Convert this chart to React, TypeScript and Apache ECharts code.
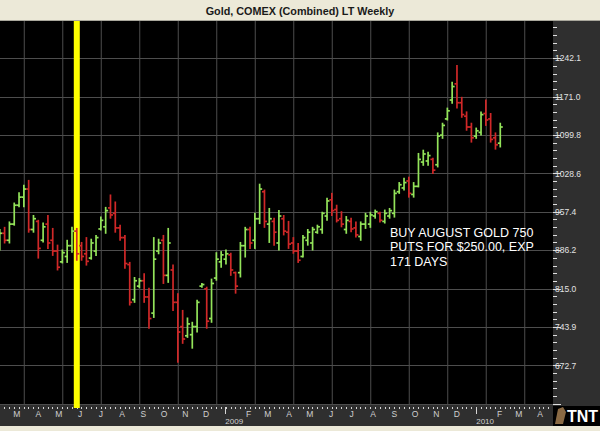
import React, { useEffect, useRef } from 'react';
import * as echarts from 'echarts';

// ---------- data ----------
const DAY0 = Date.UTC(2008, 0, 1);
const toDay = (y: number, m: number, d: number) => (Date.UTC(y, m, d) - DAY0) / 86400000;
const dayToDate = (v: number) => new Date(DAY0 + Math.round(v) * 86400000);

const chartTitle = 'Gold, COMEX (Combined) LT Weekly';
const noteLines = ['BUY AUGUST GOLD 750', 'PUTS FOR $250.00, EXP', '171 DAYS'];

// weekly bars, week ending Friday 2008-02-08 ... 2010-02-05
const firstWeekEnd = toDay(2008, 1, 8);
const openP = [
  889, 918, 905, 935, 970, 985, 1000, 925, 940, 905, 935, 905, 885, 865, 875, 895, 922, 895, 880, 872,
  885, 926, 930, 965, 955, 928, 910, 860, 795, 820, 830, 800, 770, 885, 905, 840, 850, 790, 745, 728,
  730, 745, 820, 815, 760, 835, 865, 870, 878, 845, 845, 895, 925, 905, 945, 995, 935, 940, 900, 945,
  920, 900, 885, 875, 905, 900, 920, 925, 950, 980, 962, 945, 925, 940, 928, 912, 935, 935, 950, 955,
  940, 950, 955, 995, 1002, 1015, 990, 1005, 1050, 1052, 1055, 1045, 1100, 1130, 1165, 1195, 1160, 1135, 1115, 1098,
  1105, 1140, 1130, 1095, 1085,
];
const highP = [
  925, 929, 939, 974, 993, 1007, 1016, 951, 942, 937, 951, 927, 896, 887, 905, 929, 927, 901, 910, 907,
  914, 948, 966, 989, 976, 933, 914, 864, 836, 834, 843, 816, 910, 907, 914, 927, 859, 806, 775, 761,
  753, 794, 825, 818, 833, 882, 884, 887, 881, 846, 901, 929, 929, 955, 1009, 998, 964, 946, 960, 951,
  940, 910, 899, 914, 925, 929, 933, 957, 983, 992, 970, 958, 949, 946, 939, 939, 955, 957, 961, 957,
  961, 964, 998, 1012, 1020, 1022, 1012, 1066, 1072, 1068, 1057, 1104, 1122, 1150, 1198, 1229, 1170, 1143, 1122, 1113,
  1143, 1165, 1140, 1104, 1122,
];
const lowP = [
  887, 900, 900, 933, 967, 967, 920, 920, 872, 902, 890, 877, 850, 863, 864, 883, 868, 868, 859, 870,
  877, 924, 918, 946, 920, 905, 853, 785, 790, 817, 790, 742, 762, 880, 825, 827, 775, 679, 714, 725,
  705, 735, 818, 742, 753, 831, 855, 861, 840, 807, 837, 874, 890, 890, 936, 929, 901, 896, 887, 915,
  890, 881, 864, 874, 896, 887, 918, 918, 942, 951, 939, 930, 918, 921, 911, 905, 927, 929, 946, 939,
  937, 946, 948, 992, 998, 985, 985, 1004, 1044, 1044, 1029, 1041, 1094, 1128, 1159, 1150, 1133, 1109, 1087, 1094,
  1100, 1118, 1087, 1074, 1078,
];
const closeP = [
  918, 905, 935, 970, 985, 1000, 925, 945, 890, 930, 900, 885, 855, 882, 895, 922, 880, 875, 866, 900,
  910, 942, 960, 952, 928, 910, 862, 790, 830, 830, 800, 760, 870, 900, 840, 900, 790, 735, 722, 750,
  745, 790, 823, 755, 825, 870, 878, 880, 850, 820, 895, 925, 900, 945, 1000, 940, 945, 920, 950, 922,
  898, 885, 868, 910, 920, 925, 930, 955, 978, 960, 942, 935, 942, 926, 915, 935, 950, 952, 958, 942,
  955, 960, 992, 1008, 1012, 992, 1005, 1055, 1065, 1062, 1035, 1098, 1118, 1145, 1190, 1160, 1138, 1115, 1095, 1108,
  1138, 1128, 1092, 1082, 1115,
];
const weekEnds = openP.map((_, i) => firstWeekEnd + 7 * i);

// annotation marker (yellow line) on week ending 2008-05-30
const markerDays = [toDay(2008, 4, 30)];

// axis labels
const yTickLabels = ['672.7', '743.9', '815.0', '886.2', '957.4', '1028.6', '1099.8', '1171.0', '1242.1'];
const monthLetters = ['J', 'F', 'M', 'A', 'M', 'J', 'J', 'A', 'S', 'O', 'N', 'D'];
const yearStarts = [toDay(2009, 0, 1), toDay(2010, 0, 1)];

// ---------- scales / layout ----------
const X_MIN = 38.3;
const X_MAX = 842.7;
const Y_MIN = 601.54;
const Y_STEP = 71.18;
const Y_MAX = Y_MIN + 10 * Y_STEP;

const monthStarts: number[] = [];
for (let y = 2008; y <= 2010; y++) {
  for (let m = 0; m < 12; m++) {
    const d = toDay(y, m, 1);
    if (m !== 0 && d >= X_MIN && d <= X_MAX) monthStarts.push(d);
  }
}
const weekTicks: number[] = [];
for (let d = firstWeekEnd; d <= X_MAX; d += 7) if (d >= X_MIN) weekTicks.push(d);
const gridDays: number[] = [];
for (let d = 73.6; d < X_MAX; d += 56) gridDays.push(d);

const GREEN = '#93e35a';
const RED = '#d02828';
const PANEL = '#2f2f2f';
const BAR = '#ece9d8';
const FONT = '"Liberation Sans", Arial, sans-serif';

export default function App() {
  const ref = useRef<HTMLDivElement>(null);
  useEffect(() => {
    const chart = echarts.init(ref.current!, null, { renderer: 'svg' });
    const option: any = {
      animation: false,
      backgroundColor: PANEL,
      grid: { left: 0, right: 47, top: 20, bottom: 27, show: true, backgroundColor: '#000', borderWidth: 0 },
      xAxis: [
        {
          type: 'value', min: X_MIN, max: X_MAX, position: 'bottom', offset: 3,
          axisLine: { show: false },
          axisTick: { show: true, customValues: weekTicks, length: 2, lineStyle: { color: '#d6d6d6', width: 1 } },
          axisLabel: {
            show: true, customValues: monthStarts,
            formatter: (v: number) => monthLetters[dayToDate(v).getUTCMonth()],
            color: '#cfcfcf', fontSize: 8.5, fontFamily: FONT, margin: 2, padding: [0, 0, 0, 4],
          },
          splitLine: { show: false },
        },
        {
          type: 'value', min: X_MIN, max: X_MAX, position: 'bottom', offset: 3,
          axisLine: { show: false },
          axisTick: { show: true, customValues: yearStarts, length: 7, lineStyle: { color: '#d6d6d6', width: 1 } },
          axisLabel: {
            show: true, customValues: yearStarts,
            formatter: (v: number) => String(dayToDate(v).getUTCFullYear()),
            color: '#cfcfcf', fontSize: 8, fontFamily: FONT, margin: 10, align: 'left',
          },
          splitLine: { show: false },
        },
      ],
      yAxis: {
        type: 'value', position: 'right', min: Y_MIN, max: Y_MAX, interval: Y_STEP,
        axisLine: { show: false },
        axisTick: { show: true, length: 8, lineStyle: { color: '#e0e0e0', width: 1 } },
        minorTick: { show: true, splitNumber: 5, length: 4, lineStyle: { color: '#e0e0e0', width: 1 } },
        axisLabel: {
          color: '#e2e2e2', fontSize: 8.5, fontFamily: FONT, margin: 2,
          formatter: (v: number) => {
            const hit = yTickLabels.find((t) => Math.abs(parseFloat(t) - v) < 1);
            return hit || '';
          },
        },
        splitLine: { show: true, lineStyle: { color: '#4d4d4d', width: 1 } },
      },
      series: [
        {
          type: 'custom', name: 'grid', z: 1, silent: true,
          data: gridDays.map((d) => [d]),
          encode: { x: 0 },
          renderItem: (_p: any, api: any) => {
            const d = api.value(0);
            const a = api.coord([d, Y_MAX]);
            const b = api.coord([d, Y_MIN]);
            return { type: 'line', shape: { x1: a[0], y1: a[1], x2: b[0], y2: b[1] }, style: { stroke: '#4d4d4d', lineWidth: 1 } };
          },
        },
        {
          type: 'custom', name: 'marker', z: 2, silent: true,
          data: markerDays.map((d) => [d]),
          encode: { x: 0 },
          renderItem: (_p: any, api: any) => {
            const d = api.value(0);
            const a = api.coord([d, Y_MAX]);
            const b = api.coord([d, Y_MIN]);
            return { type: 'rect', shape: { x: a[0] - 3, y: a[1], width: 6, height: b[1] - a[1] + 4 }, style: { fill: '#ffff00' } };
          },
        },
        {
          type: 'custom', name: 'Gold', z: 3,
          data: weekEnds.map((d, i) => [d, openP[i], highP[i], lowP[i], closeP[i]]),
          encode: { x: 0, y: [1, 2, 3, 4] },
          renderItem: (_p: any, api: any) => {
            const x = api.value(0);
            const o = api.value(1), h = api.value(2), l = api.value(3), c = api.value(4);
            const pH = api.coord([x, h]);
            const pL = api.coord([x, l]);
            const pO = api.coord([x, o]);
            const pC = api.coord([x, c]);
            const color = c >= o ? GREEN : RED;
            const st = { stroke: color, lineWidth: 1.7 };
            return {
              type: 'group',
              children: [
                { type: 'line', shape: { x1: pH[0], y1: pH[1] - 0.5, x2: pL[0], y2: pL[1] + 0.5 }, style: st },
                { type: 'line', shape: { x1: pO[0] - 2.5, y1: pO[1], x2: pO[0], y2: pO[1] }, style: st },
                { type: 'line', shape: { x1: pC[0], y1: pC[1], x2: pC[0] + 2.5, y2: pC[1] }, style: st },
              ],
            };
          },
        },
      ],
      graphic: [
        { type: 'rect', z: 100, shape: { x: 0, y: 0, width: 600, height: 21 }, style: { fill: BAR } },
        { type: 'line', z: 100, shape: { x1: 0, y1: 20.5, x2: 600, y2: 20.5 }, style: { stroke: '#a9a79c', lineWidth: 1 } },
        {
          type: 'text', z: 101, x: 300, y: 11,
          style: { text: chartTitle, fill: '#1a1a1a', fontSize: 10.8, fontWeight: 'bold', fontFamily: FONT, align: 'center', verticalAlign: 'middle' },
        },
        { type: 'rect', z: 100, shape: { x: 0, y: 426, width: 600, height: 5 }, style: { fill: BAR } },
        { type: 'rect', z: 100, shape: { x: 553, y: 406, width: 47, height: 20 }, style: { fill: '#000' } },
        { type: 'polygon', z: 101, shape: { points: [[555, 424], [558, 409], [563, 407], [566, 412], [563, 424]] }, style: { fill: '#8a6a44' } },
        {
          type: 'text', z: 101, x: 598, y: 416,
          style: { text: 'TNT', fill: '#ffffff', fontSize: 16, fontWeight: 'bold', fontFamily: FONT, align: 'right', verticalAlign: 'middle' },
        },
        {
          type: 'text', z: 101, x: 390, y: 226,
          style: { text: noteLines.join('\n'), fill: '#ffffff', fontSize: 12.5, fontFamily: FONT, lineHeight: 14.3, align: 'left', verticalAlign: 'top' },
        },
      ],
    };
    chart.setOption(option);
    return () => chart.dispose();
  }, []);
  return <div ref={ref} style={{ position: 'absolute', left: 0, top: 0, width: 600, height: 431 }} />;
}
